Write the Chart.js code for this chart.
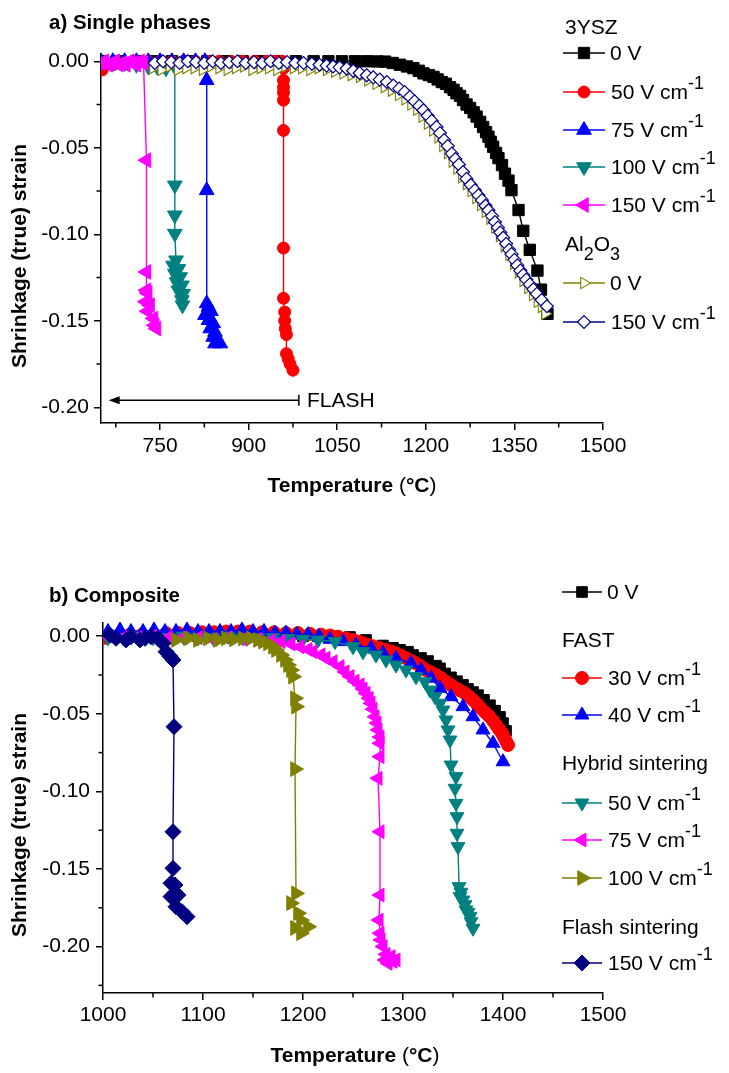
<!DOCTYPE html>
<html>
<head>
<meta charset="utf-8">
<script src="https://cdn.jsdelivr.net/npm/chart.js@4.4.1/dist/chart.umd.min.js"></script>
<style>
html,body{margin:0;padding:0;background:#fff;}
#page{position:relative;width:729px;height:1073px;overflow:hidden;background:#fff;font-family:"Liberation Sans",Arial,sans-serif;color:#000;}
canvas.chart{position:absolute;left:0;}
.t{position:absolute;white-space:nowrap;height:30px;line-height:30px;font-size:21px;}
.sup{position:relative;top:-10px;font-size:18px;}
.sub{position:relative;top:9px;font-size:18px;}
.panel{position:absolute;white-space:nowrap;height:30px;line-height:30px;font-size:20.5px;font-weight:bold;}
.yt{position:absolute;white-space:nowrap;font-weight:bold;font-size:21px;line-height:26px;transform:translate(-50%,-50%) rotate(-90deg);}
.xt{position:absolute;white-space:nowrap;font-weight:bold;font-size:21px;line-height:26px;transform:translate(-50%,-50%);}
.nb{font-weight:normal;}
canvas.mk{position:absolute;}
</style>
</head>
<body>
<div id="page">
<canvas id="chartA" class="chart" width="729" height="500" style="top:0px"></canvas>
<canvas id="chartB" class="chart" width="729" height="513" style="top:560px"></canvas>
</div>
<script>
// ---------- Panel a) Single phases ----------
const A_X_TICKS = [750, 900, 1050, 1200, 1350, 1500];
const A_X_MINOR = [675, 825, 975, 1125, 1275, 1425];
const A_Y_TICKS = [0, -0.05, -0.10, -0.15, -0.20];
const A_Y_MINOR = [-0.025, -0.075, -0.125, -0.175];

const A_YSZ_0V_T = [650,680,710,740,770,800,830,860,890,920,950,980,1010,1035,1058,1080,1100,1118,1131,1144,1156,1168,1179,1188,1196,1205,1213,1220,1227,1234,1241,1247,1252,1258,1263,1269,1275,1281,1286,1292,1297,1302,1306,1310,1314,1319,1323,1329,1334,1340,1345,1357,1365,1376,1389,1395,1406];
const A_YSZ_0V_S = [0,0,0,0,0,0,0,0,0,0,0,0,0,0,0,0,0,-0.0001,-0.0002,-0.001,-0.002,-0.003,-0.004,-0.0055,-0.007,-0.008,-0.009,-0.0105,-0.012,-0.013,-0.015,-0.0165,-0.0185,-0.020,-0.0224,-0.025,-0.027,-0.0295,-0.032,-0.035,-0.038,-0.041,-0.0436,-0.0465,-0.0494,-0.053,-0.056,-0.060,-0.065,-0.069,-0.0745,-0.086,-0.098,-0.109,-0.121,-0.132,-0.146];

const A_YSZ_50_T = [652,670,690,710,730,750,770,790,810,830,850,870,890,910,930,945,957,959,959,959,959,959,959,959,959,961,961,962,964,964,967,970,975];
const A_YSZ_50_S = [-0.005,-0.002,-0.001,0,0,0,0,0,0,0,0,0,0,0,0,0,0,-0.004,-0.011,-0.015,-0.018,-0.0225,-0.040,-0.108,-0.137,-0.145,-0.150,-0.1545,-0.158,-0.169,-0.172,-0.175,-0.1786];

const A_YSZ_75_T = [650,670,690,710,730,750,770,790,810,826,829,829,829,832,836,826,832,840,835,843,840,847,852,843];
const A_YSZ_75_S = [0,0,0,0,0,0,0,0,0,0,-0.011,-0.0746,-0.140,-0.142,-0.1445,-0.1468,-0.1497,-0.1516,-0.1545,-0.1565,-0.1594,-0.1613,-0.1632,-0.1632];

const A_YSZ_100_T = [650,670,690,710,730,745,760,775,775,775,775,777,772,781,775,784,778,787,781,789,787,788];
const A_YSZ_100_S = [0,-0.001,-0.001,-0.002,-0.003,-0.003,-0.004,-0.003,-0.0717,-0.089,-0.0996,-0.115,-0.118,-0.120,-0.1227,-0.1247,-0.1276,-0.1295,-0.1324,-0.1343,-0.138,-0.141];

const A_YSZ_150_T = [650,656,662,668,674,680,686,692,698,704,710,716,722,727,727,727,729,726,733,729,739,741,744];
const A_YSZ_150_S = [-0.001,0,-0.002,-0.001,0,-0.002,-0.001,-0.002,0,-0.001,-0.002,0,-0.001,-0.0572,-0.1218,-0.1324,-0.134,-0.139,-0.141,-0.1445,-0.1487,-0.1526,-0.1545];

const A_AL_0V_T = [738,752,766,780,794,808,822,836,850,864,878,892,906,920,934,948,962,976,990,1004,1018,1032,1046,1060,1074,1088,1102,1116,1130,1142,1154,1165,1175,1185,1194,1203,1212,1221,1229,1237,1245,1253,1261,1269,1277,1285,1293,1301,1309,1317,1325,1333,1341,1349,1357,1365,1373,1381,1389,1396,1402];
const A_AL_0V_S = [-0.004,-0.005,-0.003,-0.005,-0.004,-0.004,-0.005,-0.003,-0.004,-0.005,-0.004,-0.003,-0.005,-0.004,-0.004,-0.005,-0.003,-0.004,-0.004,-0.005,-0.004,-0.005,-0.006,-0.007,-0.008,-0.009,-0.011,-0.013,-0.015,-0.017,-0.0195,-0.022,-0.025,-0.028,-0.032,-0.036,-0.040,-0.044,-0.049,-0.053,-0.058,-0.062,-0.067,-0.071,-0.075,-0.079,-0.083,-0.087,-0.091,-0.096,-0.101,-0.107,-0.112,-0.117,-0.122,-0.127,-0.131,-0.135,-0.139,-0.142,-0.146];

const A_AL_150_T = [741,755,769,783,797,811,825,839,853,867,881,895,909,923,937,951,965,979,993,1007,1020,1032,1043,1054,1066,1077,1088,1100,1111,1122,1134,1145,1155,1164,1173,1181,1189,1196,1203,1210,1218,1224,1231,1237,1244,1250,1256,1263,1269,1276,1283,1289,1295,1301,1306,1312,1317,1322,1326,1331,1336,1341,1345,1350,1355,1360,1365,1370,1376,1382,1388,1396,1405];
const A_AL_150_S = [-0.001,0,-0.0005,-0.001,0,-0.0005,-0.001,0,-0.001,-0.0005,0,-0.001,-0.0005,-0.001,0,-0.001,-0.0005,-0.001,-0.001,-0.0015,-0.002,-0.0025,-0.003,-0.0035,-0.0042,-0.0055,-0.0068,-0.0081,-0.0093,-0.0106,-0.012,-0.014,-0.0158,-0.0178,-0.0206,-0.0232,-0.0258,-0.0283,-0.0315,-0.0345,-0.038,-0.0415,-0.0455,-0.049,-0.0534,-0.0565,-0.0597,-0.064,-0.068,-0.0715,-0.0746,-0.0775,-0.0803,-0.0835,-0.0861,-0.0895,-0.0929,-0.0962,-0.099,-0.102,-0.1055,-0.109,-0.1115,-0.1148,-0.118,-0.121,-0.1235,-0.1262,-0.129,-0.1318,-0.1345,-0.138,-0.1416];

const A_FLASH_ARROW = {fromT: 985, toT: 663, strain: -0.196};

// ---------- Panel b) Composite ----------
const B_X_TICKS = [1000, 1100, 1200, 1300, 1400, 1500];
const B_X_MINOR = [1050, 1150, 1250, 1350, 1450];
const B_Y_TICKS = [0, -0.05, -0.10, -0.15, -0.20];
const B_Y_MINOR = [-0.025, -0.075, -0.125, -0.175, -0.225];

const B_0V_T = [1005,1020,1035,1050,1065,1080,1095,1110,1125,1140,1155,1170,1185,1200,1215,1230,1247,1263,1280,1290,1297,1305,1310,1318,1325,1333,1337,1342,1348,1354,1360,1365,1370,1375,1381,1387,1392,1397,1400,1403];
const B_0V_S = [0,0,0,0,0,0,0,0,0,0,0,0,0,0,0,0,-0.0005,-0.0024,-0.006,-0.0075,-0.0088,-0.010,-0.0121,-0.014,-0.016,-0.019,-0.0207,-0.024,-0.0265,-0.029,-0.0314,-0.034,-0.036,-0.038,-0.041,-0.0445,-0.048,-0.052,-0.056,-0.061];

const B_30_T = [1003,1015,1027,1039,1051,1063,1075,1087,1099,1111,1123,1135,1147,1159,1171,1183,1195,1207,1218,1227,1235,1243,1250,1255,1260,1265,1270,1276,1283,1288,1293,1298,1303,1308,1313,1318,1323,1328,1333,1338,1343,1348,1353,1357,1362,1366,1370,1374,1378,1382,1386,1390,1393,1396,1399,1401,1403,1405];
const B_30_S = [-0.001,0,0.001,0.001,0.0015,0.002,0.002,0.002,0.0025,0.0025,0.003,0.003,0.003,0.0025,0.0025,0.002,0.002,0.0015,0.001,0.0005,-0.0003,-0.0014,-0.0025,-0.0035,-0.0045,-0.0057,-0.0065,-0.0075,-0.0089,-0.0098,-0.011,-0.0125,-0.0142,-0.0158,-0.0175,-0.0195,-0.0218,-0.0233,-0.025,-0.027,-0.0293,-0.0315,-0.0336,-0.035,-0.0368,-0.039,-0.0411,-0.0438,-0.0465,-0.049,-0.0515,-0.0545,-0.0572,-0.060,-0.0625,-0.065,-0.0675,-0.0701];

const B_40_T = [1005,1017,1028,1040,1051,1062,1073,1084,1095,1106,1117,1128,1139,1150,1161,1172,1183,1194,1205,1216,1227,1240,1253,1268,1280,1293,1308,1318,1328,1337,1348,1360,1370,1380,1390,1400];
const B_40_S = [0.003,0.004,0.003,0.003,0.004,0.003,0.003,0.004,0.003,0.003,0.003,0.003,0.004,0.003,0.003,0.002,0.002,0.001,0.001,0,-0.002,-0.0035,-0.0057,-0.0078,-0.011,-0.0142,-0.0175,-0.0218,-0.0271,-0.0336,-0.039,-0.0454,-0.0519,-0.0604,-0.069,-0.0809];

const B_50_T = [1005,1020,1035,1050,1065,1080,1095,1110,1125,1140,1155,1170,1185,1200,1215,1232,1250,1260,1273,1283,1293,1303,1313,1322,1327,1332,1337,1340,1343,1345,1347,1348,1353,1352,1353,1354,1354,1355,1356,1358,1357,1360,1362,1363,1365,1367,1368,1370];
const B_50_S = [-0.001,-0.001,0,-0.001,-0.001,0,-0.001,-0.001,0,-0.001,-0.001,-0.001,-0.0015,-0.002,-0.0025,-0.0035,-0.0068,-0.010,-0.0121,-0.0153,-0.0186,-0.0218,-0.0261,-0.0293,-0.0347,-0.039,-0.0432,-0.0476,-0.054,-0.0604,-0.0669,-0.083,-0.0905,-0.098,-0.1077,-0.1163,-0.127,-0.1356,-0.1614,-0.165,-0.1678,-0.170,-0.173,-0.1764,-0.178,-0.1807,-0.184,-0.1882];

const B_75_T = [1005,1020,1035,1050,1065,1080,1095,1110,1125,1140,1155,1168,1178,1188,1197,1205,1210,1218,1223,1230,1237,1242,1247,1252,1257,1260,1263,1266,1268,1270,1272,1274,1275,1277,1277,1277,1275,1277,1277,1276,1277,1278,1280,1283,1282,1288,1293,1290,1285];
const B_75_S = [0,-0.001,-0.001,0,-0.001,-0.001,-0.001,-0.002,-0.001,-0.002,-0.002,-0.003,-0.0035,-0.005,-0.0068,-0.0085,-0.010,-0.012,-0.0142,-0.0165,-0.0196,-0.023,-0.026,-0.029,-0.0314,-0.034,-0.0368,-0.040,-0.0432,-0.047,-0.0519,-0.056,-0.0604,-0.065,-0.069,-0.0776,-0.0916,-0.126,-0.1668,-0.1829,-0.1914,-0.1957,-0.200,-0.205,-0.2086,-0.2065,-0.2086,-0.2095,-0.2108];

const B_100_T = [1073,1085,1095,1105,1115,1123,1131,1140,1148,1155,1160,1165,1170,1173,1178,1182,1185,1188,1190,1192,1193,1192,1193,1188,1195,1198,1205,1198,1192];
const B_100_S = [-0.0024,-0.0014,-0.0024,-0.0014,-0.0024,-0.0014,-0.002,-0.0014,-0.0014,-0.0024,-0.0035,-0.0046,-0.0068,-0.0089,-0.0121,-0.0153,-0.0186,-0.0218,-0.0261,-0.040,-0.0454,-0.0856,-0.1657,-0.172,-0.1785,-0.183,-0.1872,-0.1914,-0.188];

const B_150_T = [1007,1013,1023,1028,1037,1042,1048,1055,1060,1063,1067,1070,1071,1070,1070,1068,1072,1068,1075,1073,1079,1084];
const B_150_S = [0.0008,-0.0014,-0.0024,-0.0003,-0.0024,-0.0014,-0.0003,-0.0014,-0.0046,-0.010,-0.013,-0.0153,-0.0583,-0.126,-0.1496,-0.1592,-0.1603,-0.1678,-0.1668,-0.1743,-0.1775,-0.1807];

// ---------- styles ----------
const FONT = "'Liberation Sans', Arial, sans-serif";
const ST = {
  black:   {color:'#000000', style:'rect', r:8, rot:0, fill:'#000000', bw:1},
  red:     {color:'#ff0000', style:'circle', r:6, rot:0, fill:'#ff0000', bw:1},
  blue:    {color:'#0000ff', style:'triangle', r:8.5, rot:0, fill:'#0000ff', bw:1},
  teal:    {color:'#008080', style:'triangle', r:8.5, rot:180, fill:'#008080', bw:1},
  magenta: {color:'#ff00ff', style:'triangle', r:8.5, rot:270, fill:'#ff00ff', bw:1},
  oliveO:  {color:'#808000', style:'triangle', r:6.5, rot:90, fill:'#ffffff', bw:1.1},
  navyO:   {color:'#00008b', style:'rectRot', r:6.5, rot:0, fill:'#ffffff', bw:1.2},
  bBlack:  {color:'#000000', style:'rect', r:7.5, rot:0, fill:'#000000', bw:1},
  bRed:    {color:'#ff0000', style:'circle', r:6.5, rot:0, fill:'#ff0000', bw:1},
  bBlue:   {color:'#0000ff', style:'triangle', r:8, rot:0, fill:'#0000ff', bw:1},
  bTeal:   {color:'#008080', style:'triangle', r:8, rot:180, fill:'#008080', bw:1},
  bMag:    {color:'#ff00ff', style:'triangle', r:8, rot:270, fill:'#ff00ff', bw:1},
  bOlive:  {color:'#808000', style:'triangle', r:8.5, rot:90, fill:'#808000', bw:1},
  bNavy:   {color:'#000080', style:'rectRot', r:8, rot:0, fill:'#000080', bw:1}
};

function series(label, T, S, st, idx, n) {
  return {
    label: label,
    data: T.map((t, i) => ({x: t, y: S[i]})),
    borderColor: st.color,
    borderWidth: 1.4,
    backgroundColor: st.fill,
    pointStyle: st.style,
    pointRadius: st.r,
    pointRotation: st.rot,
    pointBackgroundColor: st.fill,
    pointBorderColor: st.color,
    pointBorderWidth: st.bw,
    tension: 0,
    fill: false,
    clip: {left: 0, top: 12, right: 12, bottom: 12},
    order: n - 1 - idx
  };
}

const axisExtras = {
  id: 'axisExtras',
  afterDraw(chart, args, opts) {
    const ctx = chart.ctx, a = chart.chartArea, x = chart.scales.x, y = chart.scales.y;
    ctx.save();
    ctx.strokeStyle = '#000'; ctx.fillStyle = '#000'; ctx.lineWidth = 1.5;
    (opts.xMinor || []).forEach(v => {
      const p = x.getPixelForValue(v);
      ctx.beginPath(); ctx.moveTo(p, a.bottom); ctx.lineTo(p, a.bottom + 4.5); ctx.stroke();
    });
    (opts.yMinor || []).forEach(v => {
      const p = y.getPixelForValue(v);
      ctx.beginPath(); ctx.moveTo(a.left, p); ctx.lineTo(a.left - 4.5, p); ctx.stroke();
    });
    if (opts.arrow) {
      const yy = y.getPixelForValue(opts.arrow.strain);
      const x1 = x.getPixelForValue(opts.arrow.fromT);
      const x0 = x.getPixelForValue(opts.arrow.toT);
      ctx.lineWidth = 1.5;
      ctx.beginPath(); ctx.moveTo(x0 + 6, yy); ctx.lineTo(x1, yy); ctx.stroke();
      ctx.beginPath(); ctx.moveTo(x1, yy - 5.5); ctx.lineTo(x1, yy + 5.5); ctx.stroke();
      ctx.beginPath(); ctx.moveTo(x0, yy); ctx.lineTo(x0 + 11, yy - 4); ctx.lineTo(x0 + 11, yy + 4); ctx.closePath(); ctx.fill();
    }
    ctx.restore();
  }
};

function axisCfg(min, max, majors, fmt, fitSize, horizontal, pad) {
  return {
    type: 'linear', min: min, max: max,
    afterBuildTicks(s) { s.ticks = majors.map(v => ({value: v})); },
    afterFit(s) {
      if (horizontal) s.height = fitSize; else s.width = fitSize;
      s.paddingLeft = 0; s.paddingRight = 0; s.paddingTop = 0; s.paddingBottom = 0;
    },
    ticks: {callback: fmt, color: '#000', font: {family: FONT, size: 21}, padding: pad, autoSkip: false, maxRotation: 0, minRotation: 0},
    grid: {display: true, drawOnChartArea: false, drawTicks: true, tickLength: 7, color: '#000', lineWidth: 1.5},
    border: {display: true, color: '#000', width: 1.5},
    title: {display: false}
  };
}

const fmtT = v => String(v);
const fmtS = v => (Math.abs(v) < 1e-9 ? 0 : v).toFixed(2);

const dsA = [
  ['0 V', A_YSZ_0V_T, A_YSZ_0V_S, ST.black],
  ['50 V cm-1', A_YSZ_50_T, A_YSZ_50_S, ST.red],
  ['75 V cm-1', A_YSZ_75_T, A_YSZ_75_S, ST.blue],
  ['100 V cm-1', A_YSZ_100_T, A_YSZ_100_S, ST.teal],
  ['150 V cm-1', A_YSZ_150_T, A_YSZ_150_S, ST.magenta],
  ['Al2O3 0 V', A_AL_0V_T, A_AL_0V_S, ST.oliveO],
  ['Al2O3 150 V cm-1', A_AL_150_T, A_AL_150_S, ST.navyO]
].map((d, i, arr) => series(d[0], d[1], d[2], d[3], i, arr.length));

const dsB = [
  ['0 V', B_0V_T, B_0V_S, ST.bBlack],
  ['30 V cm-1', B_30_T, B_30_S, ST.bRed],
  ['40 V cm-1', B_40_T, B_40_S, ST.bBlue],
  ['50 V cm-1', B_50_T, B_50_S, ST.bTeal],
  ['75 V cm-1', B_75_T, B_75_S, ST.bMag],
  ['100 V cm-1', B_100_T, B_100_S, ST.bOlive],
  ['150 V cm-1', B_150_T, B_150_S, ST.bNavy]
].map((d, i, arr) => series(d[0], d[1], d[2], d[3], i, arr.length));

Chart.defaults.font.family = FONT;

new Chart(document.getElementById('chartA'), {
  type: 'line',
  data: {datasets: dsA},
  options: {
    responsive: false, animation: false, events: [], devicePixelRatio: 1,
    layout: {padding: {left: 0, top: 54, right: 126, bottom: 0}},
    scales: {
      x: axisCfg(650, 1500, A_X_TICKS, fmtT, 77, true, 4),
      y: axisCfg(-0.2091, 0.0042, A_Y_TICKS, fmtS, 101, false, 5)
    },
    plugins: {
      legend: {display: false}, tooltip: {enabled: false},
      axisExtras: {xMinor: A_X_MINOR, yMinor: A_Y_MINOR, arrow: A_FLASH_ARROW}
    }
  },
  plugins: [axisExtras]
});

new Chart(document.getElementById('chartB'), {
  type: 'line',
  data: {datasets: dsB},
  options: {
    responsive: false, animation: false, events: [], devicePixelRatio: 1,
    layout: {padding: {left: 0, top: 63, right: 126, bottom: 0}},
    scales: {
      x: axisCfg(1000, 1500, B_X_TICKS, fmtT, 80, true, 3),
      y: axisCfg(-0.2299, 0.0085, B_Y_TICKS, fmtS, 103, false, 6)
    },
    plugins: {
      legend: {display: false}, tooltip: {enabled: false},
      axisExtras: {xMinor: B_X_MINOR, yMinor: B_Y_MINOR}
    }
  },
  plugins: [axisExtras]
});

// ---------- text & legends (HTML) ----------
const page = document.getElementById('page');
function addDiv(cls, html, left, top, extra) {
  const d = document.createElement('div');
  d.className = cls; d.innerHTML = html;
  d.style.left = left + 'px'; d.style.top = top + 'px';
  if (extra) Object.assign(d.style, extra);
  page.appendChild(d);
  return d;
}
function drawMarker(ctx, st, x, y) {
  const r = st.r; let a = (st.rot || 0) * Math.PI / 180;
  ctx.beginPath();
  if (st.style === 'circle') { ctx.arc(x, y, r, 0, Math.PI * 2); }
  else if (st.style === 'rect') { const s = Math.SQRT1_2 * r; ctx.rect(x - s, y - s, 2 * s, 2 * s); }
  else if (st.style === 'triangle') {
    ctx.moveTo(x + Math.sin(a) * r, y - Math.cos(a) * r); a += 2 * Math.PI / 3;
    ctx.lineTo(x + Math.sin(a) * r, y - Math.cos(a) * r); a += 2 * Math.PI / 3;
    ctx.lineTo(x + Math.sin(a) * r, y - Math.cos(a) * r); ctx.closePath();
  } else if (st.style === 'rectRot') {
    ctx.moveTo(x - r, y); ctx.lineTo(x, y - r); ctx.lineTo(x + r, y); ctx.lineTo(x, y + r); ctx.closePath();
  }
  ctx.fillStyle = st.fill; ctx.fill();
  if (st.bw) { ctx.lineWidth = st.bw; ctx.strokeStyle = st.color; ctx.stroke(); }
}
function legendRow(st, html, lineX0, lineX1, textX, cy) {
  const c = document.createElement('canvas');
  const w = lineX1 - lineX0 + 4;
  c.width = Math.ceil(w); c.height = 26; c.className = 'mk';
  c.style.left = (lineX0 - 2) + 'px'; c.style.top = (cy - 13) + 'px';
  page.appendChild(c);
  const ctx = c.getContext('2d');
  ctx.strokeStyle = st.color; ctx.lineWidth = 1.5;
  ctx.beginPath(); ctx.moveTo(2, 13); ctx.lineTo(2 + lineX1 - lineX0, 13); ctx.stroke();
  drawMarker(ctx, st, 2 + (lineX1 - lineX0) / 2, 13);
  addDiv('t', html, textX, cy - 15);
}
const CM = ' V cm<span class="sup">-1</span>';

// Panel a
addDiv('panel', 'a) Single phases', 49, 7);
addDiv('yt', 'Shrinkage (true) strain', 19, 256);
addDiv('xt', 'Temperature <span class="nb">(</span>°C<span class="nb">)</span>', 352, 485);
addDiv('t', 'FLASH', 307, 385);
addDiv('t', '3YSZ', 565, 12);
legendRow(ST.black, '0 V', 563, 605, 610, 53);
legendRow(ST.red, '50' + CM, 563, 605, 611, 92);
legendRow(ST.blue, '75' + CM, 563, 605, 611, 130);
legendRow(ST.teal, '100' + CM, 563, 605, 611, 167);
legendRow(ST.magenta, '150' + CM, 563, 605, 611, 205);
addDiv('t', 'Al<span class="sub">2</span>O<span class="sub">3</span>', 565, 229);
legendRow(ST.oliveO, '0 V', 563, 605, 610, 283);
legendRow(ST.navyO, '150' + CM, 563, 605, 611, 322);

// Panel b
addDiv('panel', 'b) Composite', 49, 580);
addDiv('yt', 'Shrinkage (true) strain', 19, 825);
addDiv('xt', 'Temperature <span class="nb">(</span>°C<span class="nb">)</span>', 355, 1055);
legendRow(ST.bBlack, '0 V', 562, 602, 607, 592);
addDiv('t', 'FAST', 562, 625);
legendRow(ST.bRed, '30' + CM, 562, 602, 608, 678);
legendRow(ST.bBlue, '40' + CM, 562, 602, 608, 715);
addDiv('t', 'Hybrid sintering', 562, 748);
legendRow(ST.bTeal, '50' + CM, 562, 602, 608, 803);
legendRow(ST.bMag, '75' + CM, 562, 602, 608, 840);
legendRow(ST.bOlive, '100' + CM, 562, 602, 608, 878);
addDiv('t', 'Flash sintering', 562, 912);
legendRow(ST.bNavy, '150' + CM, 562, 602, 608, 963);
</script>
</body>
</html>
